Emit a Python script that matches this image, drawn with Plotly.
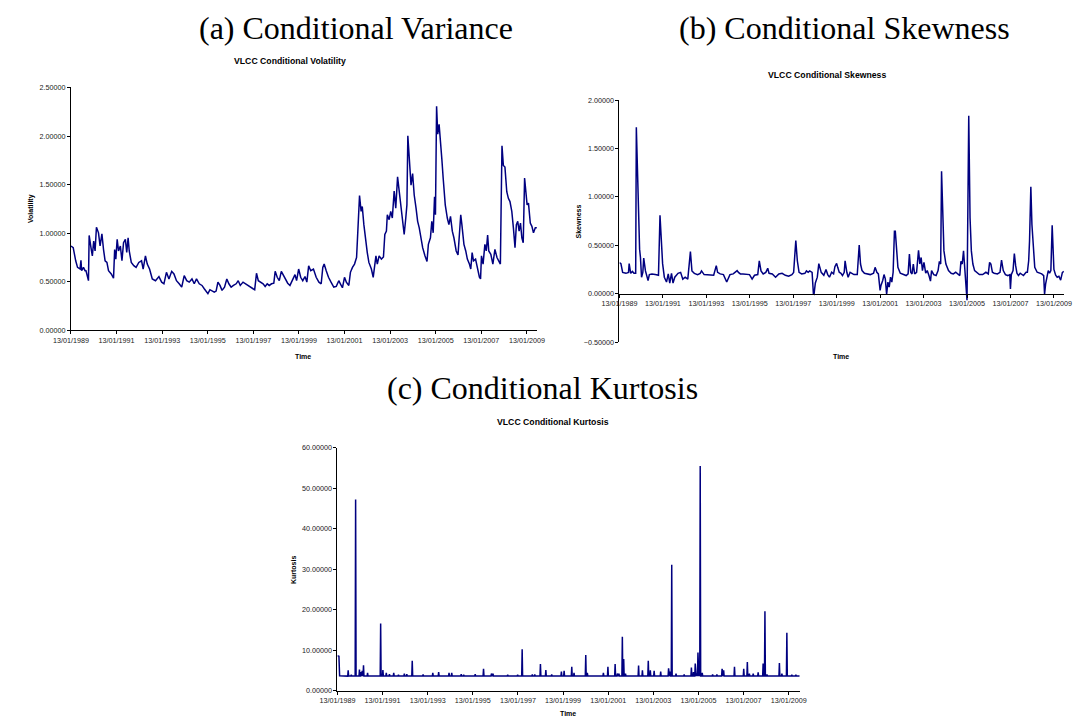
import pandas as pd
import plotly.graph_objects as go

# ---------------------------------------------------------------------------
# Weekly VLCC conditional moments (time in decimal years)
# ---------------------------------------------------------------------------
vol_t = [
    1989.033, 1989.13, 1989.24, 1989.32, 1989.43, 1989.47, 1989.50, 1989.58, 1989.65, 1989.69,
    1989.80, 1989.83, 1989.91, 1989.97, 1990.03, 1990.09, 1990.15, 1990.24, 1990.31, 1990.39,
    1990.46, 1990.53, 1990.61, 1990.68, 1990.80, 1990.90, 1990.95, 1991.00, 1991.06, 1991.12,
    1991.20, 1991.27, 1991.34, 1991.42, 1991.48, 1991.54, 1991.59, 1991.68, 1991.79, 1991.89,
    1992.01, 1992.13, 1992.20, 1992.30, 1992.38, 1992.48, 1992.60, 1992.74, 1992.89, 1993.01,
    1993.11, 1993.22, 1993.33, 1993.45, 1993.55, 1993.66, 1993.78, 1993.89, 1994.00, 1994.11,
    1994.22, 1994.34, 1994.44, 1994.54, 1994.66, 1994.78, 1994.88, 1994.98, 1995.04, 1995.13,
    1995.22, 1995.32, 1995.40, 1995.48, 1995.57, 1995.66, 1995.77, 1995.87, 1995.96, 1996.06,
    1996.16, 1996.28, 1996.37, 1996.46, 1996.58, 1996.69, 1996.80, 1996.90, 1997.02, 1997.09,
    1997.17, 1997.25, 1997.34, 1997.46, 1997.55, 1997.64, 1997.73, 1997.83, 1997.93, 1997.99,
    1998.08, 1998.17, 1998.26, 1998.34, 1998.43, 1998.54, 1998.64, 1998.76, 1998.86, 1998.93,
    1999.02, 1999.11, 1999.20, 1999.30, 1999.38, 1999.46, 1999.55, 1999.67, 1999.79, 1999.91,
    2000.01, 2000.08, 2000.14, 2000.23, 2000.33, 2000.44, 2000.56, 2000.67, 2000.78, 2000.85,
    2000.94, 2001.03, 2001.11, 2001.22, 2001.29, 2001.38, 2001.47, 2001.56, 2001.63, 2001.69,
    2001.76, 2001.81, 2001.88, 2001.96, 2002.03, 2002.10, 2002.21, 2002.29, 2002.35, 2002.41,
    2002.47, 2002.55, 2002.65, 2002.74, 2002.80, 2002.87, 2002.91, 2002.99, 2003.06, 2003.13,
    2003.21, 2003.28, 2003.36, 2003.43, 2003.50, 2003.58, 2003.65, 2003.72, 2003.77, 2003.81,
    2003.87, 2003.95, 2004.02, 2004.09, 2004.17, 2004.24, 2004.31, 2004.39, 2004.46, 2004.56,
    2004.65, 2004.71, 2004.80, 2004.86, 2004.92, 2004.98, 2005.02, 2005.07, 2005.12, 2005.18,
    2005.24, 2005.30, 2005.36, 2005.45, 2005.54, 2005.61, 2005.68, 2005.76, 2005.83, 2005.93,
    2006.01, 2006.07, 2006.13, 2006.18, 2006.27, 2006.35, 2006.42, 2006.51, 2006.57, 2006.63,
    2006.69, 2006.78, 2006.86, 2006.95, 2007.00, 2007.04, 2007.11, 2007.19, 2007.25, 2007.31,
    2007.36, 2007.45, 2007.54, 2007.63, 2007.72, 2007.81, 2007.87, 2007.90, 2007.94, 2008.00,
    2008.07, 2008.15, 2008.22, 2008.29, 2008.37, 2008.44, 2008.51, 2008.57, 2008.63, 2008.69,
    2008.75, 2008.81, 2008.87, 2008.93, 2008.99, 2009.04, 2009.10, 2009.18, 2009.25, 2009.32,
    2009.40, 2009.47,
]
vol_v = [
    0.867, 0.850, 0.715, 0.647, 0.630, 0.720, 0.613, 0.647, 0.613, 0.613,
    0.510, 0.976, 0.850, 0.766, 0.918, 0.816, 1.060, 1.003, 0.867, 0.993,
    0.833, 0.715, 0.698, 0.613, 0.579, 0.535, 0.830, 0.732, 0.935, 0.816,
    0.867, 0.715, 0.901, 0.935, 0.800, 0.952, 0.816, 0.698, 0.664, 0.647,
    0.698, 0.715, 0.630, 0.766, 0.681, 0.630, 0.528, 0.510, 0.552, 0.495,
    0.478, 0.596, 0.528, 0.606, 0.579, 0.510, 0.478, 0.444, 0.562, 0.510,
    0.495, 0.528, 0.478, 0.528, 0.478, 0.461, 0.427, 0.393, 0.376, 0.417,
    0.403, 0.393, 0.403, 0.495, 0.461, 0.410, 0.444, 0.528, 0.478, 0.444,
    0.461, 0.478, 0.510, 0.461, 0.495, 0.478, 0.461, 0.437, 0.427, 0.417,
    0.586, 0.510, 0.495, 0.478, 0.451, 0.478, 0.461, 0.478, 0.484, 0.606,
    0.545, 0.510, 0.606, 0.572, 0.545, 0.484, 0.461, 0.518, 0.572, 0.510,
    0.630, 0.545, 0.510, 0.552, 0.495, 0.664, 0.613, 0.630, 0.545, 0.495,
    0.478, 0.647, 0.681, 0.613, 0.545, 0.495, 0.444, 0.451, 0.510, 0.478,
    0.437, 0.545, 0.495, 0.461, 0.596, 0.647, 0.681, 0.749, 1.087, 1.386,
    1.223, 1.274, 1.087, 0.918, 0.800, 0.698, 0.630, 0.545, 0.681, 0.766,
    0.681, 0.766, 0.732, 0.755, 0.986, 1.020, 1.189, 1.138, 1.223, 1.155,
    1.433, 1.257, 1.579, 1.426, 1.257, 1.087, 0.986, 1.155, 1.291, 2.002,
    1.731, 1.494, 1.612, 1.392, 1.257, 1.121, 1.054, 0.952, 0.850, 0.766,
    0.708, 0.884, 0.952, 1.121, 1.003, 1.375, 1.189, 2.307, 2.019, 2.121,
    1.968, 1.765, 1.562, 1.291, 1.155, 1.087, 1.172, 1.020, 0.952, 0.816,
    0.776, 1.020, 1.189, 1.087, 0.884, 0.816, 0.732, 0.681, 0.630, 0.800,
    0.715, 0.732, 0.647, 0.545, 0.528, 0.766, 0.681, 0.884, 0.816, 0.979,
    0.816, 0.782, 0.681, 0.833, 0.749, 0.698, 0.681, 1.223, 1.900, 1.697,
    1.680, 1.426, 1.358, 1.325, 1.223, 1.054, 0.850, 1.087, 1.121, 1.020,
    1.104, 0.952, 0.901, 1.568, 1.426, 1.291, 1.308, 1.104, 1.070, 1.003,
    1.054, 1.054,
]

skew_t = [
    1989.033, 1989.10, 1989.18, 1989.33, 1989.45, 1989.48, 1989.55, 1989.63, 1989.70, 1989.78,
    1989.81, 1989.90, 1989.96, 1990.00, 1990.05, 1990.11, 1990.15, 1990.23, 1990.30, 1990.35,
    1990.41, 1990.53, 1990.68, 1990.83, 1990.90, 1990.98, 1991.02, 1991.10, 1991.20, 1991.28,
    1991.35, 1991.43, 1991.50, 1991.58, 1991.73, 1991.85, 1991.95, 1992.06, 1992.18, 1992.30,
    1992.37, 1992.48, 1992.63, 1992.75, 1992.81, 1992.93, 1993.07, 1993.22, 1993.37, 1993.49,
    1993.55, 1993.67, 1993.82, 1993.97, 1994.05, 1994.12, 1994.27, 1994.45, 1994.51, 1994.60,
    1994.72, 1994.87, 1995.02, 1995.14, 1995.25, 1995.40, 1995.47, 1995.55, 1995.65, 1995.77,
    1995.86, 1995.92, 1996.07, 1996.22, 1996.37, 1996.52, 1996.67, 1996.82, 1996.97, 1997.05,
    1997.15, 1997.22, 1997.30, 1997.42, 1997.57, 1997.64, 1997.72, 1997.79, 1997.90, 1997.96,
    1997.99, 1998.05, 1998.14, 1998.21, 1998.32, 1998.44, 1998.54, 1998.62, 1998.70, 1998.80,
    1998.89, 1998.95, 1999.03, 1999.08, 1999.15, 1999.23, 1999.30, 1999.38, 1999.42, 1999.50,
    1999.56, 1999.65, 1999.75, 1999.83, 1999.98, 2000.07, 2000.13, 2000.20, 2000.31, 2000.43,
    2000.58, 2000.73, 2000.80, 2000.88, 2000.95, 2001.03, 2001.07, 2001.15, 2001.21, 2001.27,
    2001.33, 2001.39, 2001.45, 2001.51, 2001.57, 2001.63, 2001.69, 2001.73, 2001.78, 2001.85,
    2001.96, 2002.08, 2002.23, 2002.32, 2002.38, 2002.44, 2002.50, 2002.56, 2002.62, 2002.71,
    2002.80, 2002.86, 2002.92, 2002.98, 2003.05, 2003.13, 2003.20, 2003.28, 2003.35, 2003.40,
    2003.50, 2003.61, 2003.70, 2003.76, 2003.82, 2003.86, 2003.91, 2003.97, 2004.06, 2004.18,
    2004.30, 2004.40, 2004.51, 2004.63, 2004.70, 2004.75, 2004.81, 2004.87, 2004.93, 2004.99,
    2005.03, 2005.11, 2005.17, 2005.23, 2005.30, 2005.38, 2005.50, 2005.60, 2005.75, 2005.90,
    2006.01, 2006.07, 2006.13, 2006.20, 2006.28, 2006.43, 2006.55, 2006.62, 2006.70, 2006.80,
    2006.91, 2007.00, 2007.03, 2007.07, 2007.15, 2007.21, 2007.27, 2007.33, 2007.40, 2007.48,
    2007.63, 2007.75, 2007.81, 2007.87, 2007.91, 2007.97, 2008.02, 2008.08, 2008.15, 2008.26,
    2008.38, 2008.47, 2008.56, 2008.60, 2008.65, 2008.71, 2008.77, 2008.83, 2008.89, 2008.95,
    2008.98, 2009.03, 2009.11, 2009.18, 2009.26, 2009.34, 2009.42, 2009.49,
]
skew_v = [
    0.320, 0.310, 0.220, 0.210, 0.220, 0.310, 0.210, 0.230, 0.210, 0.210,
    1.720, 0.885, 0.460, 0.375, 0.170, 0.220, 0.367, 0.235, 0.170, 0.136,
    0.197, 0.204, 0.197, 0.190, 0.810, 0.476, 0.310, 0.170, 0.120, 0.204,
    0.110, 0.210, 0.110, 0.170, 0.210, 0.220, 0.150, 0.170, 0.150, 0.435,
    0.235, 0.210, 0.197, 0.210, 0.235, 0.197, 0.197, 0.190, 0.190, 0.290,
    0.220, 0.204, 0.197, 0.120, 0.160, 0.197, 0.204, 0.238, 0.220, 0.204,
    0.204, 0.197, 0.197, 0.150, 0.190, 0.197, 0.340, 0.235, 0.204, 0.220,
    0.262, 0.210, 0.204, 0.170, 0.204, 0.210, 0.190, 0.180, 0.197, 0.220,
    0.550, 0.340, 0.220, 0.204, 0.210, 0.235, 0.220, 0.235, 0.220, 0.000,
    -0.005, 0.110, 0.170, 0.310, 0.220, 0.190, 0.250, 0.197, 0.170, 0.221,
    0.204, 0.279, 0.313, 0.272, 0.221, 0.211, 0.187, 0.221, 0.340, 0.221,
    0.170, 0.221, 0.204, 0.197, 0.197, 0.503, 0.306, 0.238, 0.211, 0.204,
    0.197, 0.211, 0.272, 0.221, 0.204, 0.034, 0.085, 0.136, 0.197, 0.153,
    -0.007, 0.119, 0.068, 0.170, 0.119, 0.221, 0.646, 0.646, 0.442, 0.272,
    0.211, 0.197, 0.187, 0.204, 0.408, 0.221, 0.204, 0.306, 0.204, 0.221,
    0.449, 0.306, 0.374, 0.238, 0.323, 0.211, 0.238, 0.187, 0.129, 0.238,
    0.197, 0.187, 0.238, 0.333, 0.306, 1.265, 0.782, 0.442, 0.306, 0.238,
    0.211, 0.204, 0.221, 0.197, 0.187, 0.333, 0.306, 0.442, 0.238, 0.034,
    -0.068, 1.837, 0.782, 0.442, 0.306, 0.238, 0.211, 0.197, 0.197, 0.221,
    0.204, 0.323, 0.306, 0.221, 0.211, 0.204, 0.221, 0.347, 0.238, 0.197,
    0.187, 0.197, 0.048, 0.197, 0.238, 0.415, 0.289, 0.211, 0.187, 0.211,
    0.187, 0.221, 0.221, 0.340, 0.544, 1.105, 0.714, 0.442, 0.272, 0.221,
    0.211, 0.204, 0.187, -0.007, 0.102, 0.187, 0.238, 0.211, 0.238, 0.707,
    0.578, 0.250, 0.190, 0.170, 0.180, 0.140, 0.220, 0.230,
]

kurt_t = [
    1989.033, 1989.10, 1989.13, 1989.49, 1989.51, 1989.53, 1989.63, 1989.65, 1989.67, 1989.82,
    1989.84, 1989.86, 1989.99, 1990.01, 1990.03, 1990.06, 1990.08, 1990.10, 1990.11, 1990.13,
    1990.15, 1990.17, 1990.19, 1990.21, 1990.35, 1990.37, 1990.39, 1990.93, 1990.95, 1990.97,
    1991.03, 1991.05, 1991.07, 1991.18, 1991.20, 1991.22, 1991.32, 1991.34, 1991.36, 1991.51,
    1991.53, 1991.55, 1991.72, 1991.74, 1991.76, 1991.98, 1992.00, 1992.02, 1992.09, 1992.11,
    1992.13, 1992.33, 1992.35, 1992.37, 1992.81, 1992.83, 1992.85, 1993.24, 1993.26, 1993.28,
    1993.50, 1993.52, 1993.54, 1993.96, 1993.98, 1994.00, 1994.08, 1994.10, 1994.12, 1994.50,
    1994.52, 1994.54, 1994.61, 1994.63, 1994.65, 1995.12, 1995.14, 1995.16, 1995.49, 1995.51,
    1995.53, 1995.84, 1995.86, 1995.88, 1995.91, 1995.93, 1995.95, 1996.56, 1996.58, 1996.60,
    1997.00, 1997.02, 1997.04, 1997.20, 1997.22, 1997.24, 1997.65, 1997.67, 1997.69, 1997.76,
    1997.78, 1997.80, 1998.01, 1998.03, 1998.05, 1998.25, 1998.27, 1998.29, 1998.51, 1998.53,
    1998.55, 1998.94, 1998.96, 1998.98, 1999.06, 1999.08, 1999.10, 1999.40, 1999.42, 1999.44,
    1999.50, 1999.52, 1999.54, 2000.02, 2000.04, 2000.06, 2000.09, 2000.11, 2000.13, 2000.80,
    2000.82, 2000.84, 2001.00, 2001.02, 2001.04, 2001.32, 2001.34, 2001.36, 2001.42, 2001.44,
    2001.46, 2001.49, 2001.51, 2001.53, 2001.64, 2001.66, 2001.68, 2001.70, 2001.72, 2001.74,
    2001.78, 2001.80, 2001.82, 2002.36, 2002.38, 2002.40, 2002.53, 2002.55, 2002.57, 2002.79,
    2002.81, 2002.83, 2002.88, 2002.90, 2002.92, 2003.05, 2003.07, 2003.09, 2003.34, 2003.36,
    2003.38, 2003.69, 2003.71, 2003.73, 2003.75, 2003.77, 2003.79, 2003.83, 2003.85, 2003.87,
    2004.02, 2004.04, 2004.06, 2004.38, 2004.40, 2004.42, 2004.70, 2004.72, 2004.74, 2004.79,
    2004.81, 2004.83, 2004.87, 2004.89, 2004.91, 2004.93, 2004.95, 2004.97, 2004.99, 2005.01,
    2005.03, 2005.05, 2005.07, 2005.09, 2005.11, 2005.13, 2005.18, 2005.20, 2005.22, 2005.64,
    2005.66, 2005.68, 2005.83, 2005.85, 2005.87, 2006.06, 2006.08, 2006.10, 2006.13, 2006.15,
    2006.17, 2006.61, 2006.63, 2006.65, 2007.02, 2007.04, 2007.06, 2007.18, 2007.20, 2007.22,
    2007.27, 2007.29, 2007.31, 2007.44, 2007.46, 2007.48, 2007.66, 2007.68, 2007.70, 2007.88,
    2007.90, 2007.92, 2007.96, 2007.98, 2008.00, 2008.05, 2008.07, 2008.09, 2008.60, 2008.62,
    2008.64, 2008.71, 2008.73, 2008.75, 2008.93, 2008.95, 2008.97, 2009.15, 2009.17, 2009.19,
    2009.33, 2009.35, 2009.37, 2009.52,
]
kurt_v = [
    8.6, 8.5, 3.7, 3.6, 5.0, 3.6, 3.6, 3.9, 3.6, 3.6,
    47.2, 3.6, 3.6, 5.2, 3.6, 3.6, 4.6, 3.6, 3.6, 4.9,
    3.6, 3.6, 6.3, 3.6, 3.6, 4.4, 3.6, 3.6, 16.6, 3.6,
    3.6, 5.1, 3.6, 3.6, 4.4, 3.6, 3.6, 4.1, 3.6, 3.6,
    4.4, 3.6, 3.6, 3.9, 3.6, 3.6, 4.2, 3.6, 3.6, 4.1,
    3.6, 3.6, 7.4, 3.6, 3.6, 4.0, 3.6, 3.6, 4.4, 3.6,
    3.6, 4.6, 3.6, 3.6, 4.4, 3.6, 3.6, 4.4, 3.6, 3.6,
    4.1, 3.6, 3.6, 3.9, 3.6, 3.6, 4.1, 3.6, 3.6, 5.4,
    3.6, 3.6, 4.2, 3.6, 3.6, 4.2, 3.6, 3.6, 3.9, 3.6,
    3.6, 3.9, 3.6, 3.6, 10.2, 3.6, 3.6, 4.0, 3.6, 3.6,
    4.0, 3.6, 3.6, 6.6, 3.6, 3.6, 5.1, 3.6, 3.6, 4.0,
    3.6, 3.6, 4.7, 3.6, 3.6, 4.9, 3.6, 3.6, 5.9, 3.6,
    3.6, 4.4, 3.6, 3.6, 8.8, 3.6, 3.6, 4.4, 3.6, 3.6,
    4.4, 3.6, 3.6, 5.9, 3.6, 3.6, 6.6, 3.6, 3.6, 4.2,
    3.6, 3.6, 4.2, 3.6, 3.6, 13.3, 3.6, 3.6, 7.8, 3.6,
    3.6, 4.2, 3.6, 3.6, 6.2, 3.6, 3.6, 5.0, 3.6, 3.6,
    7.4, 3.6, 3.6, 5.0, 3.6, 3.6, 4.9, 3.6, 3.6, 4.7,
    3.6, 3.6, 5.5, 3.6, 3.6, 4.7, 3.6, 3.6, 31.1, 3.6,
    3.6, 4.2, 3.6, 3.6, 4.0, 3.6, 3.6, 5.7, 3.6, 3.6,
    4.6, 3.6, 3.6, 6.7, 3.6, 3.6, 4.3, 3.6, 3.6, 9.4,
    3.6, 3.6, 5.4, 3.6, 55.5, 3.6, 3.6, 4.4, 3.6, 3.6,
    4.0, 3.6, 3.6, 4.0, 3.6, 3.6, 5.4, 3.6, 3.6, 5.0,
    3.6, 3.6, 5.9, 3.6, 3.6, 5.4, 3.6, 3.6, 7.1, 3.6,
    3.6, 4.2, 3.6, 3.6, 4.2, 3.6, 3.6, 4.5, 3.6, 3.6,
    6.7, 3.6, 3.6, 19.6, 3.6, 3.6, 4.0, 3.6, 3.6, 6.8,
    3.6, 3.6, 4.2, 3.6, 3.6, 14.3, 3.6, 3.6, 3.9, 3.6,
    3.6, 3.9, 3.6, 3.6,
]

tick_years = [1989, 1991, 1993, 1995, 1997, 1999, 2001, 2003, 2005, 2007, 2009]

assert len(vol_t) == len(vol_v)
assert len(skew_t) == len(skew_v)
assert len(kurt_t) == len(kurt_v)


def to_date(y):
    """Decimal year -> ISO timestamp string."""
    yr = int(y)
    start = pd.Timestamp(yr, 1, 1)
    span = pd.Timestamp(yr + 1, 1, 1) - start
    return (start + span * (y - yr)).strftime("%Y-%m-%d %H:%M")


def dates(ts):
    return [to_date(t) for t in ts]


W, H = 1080, 725
NAVY = "#000080"
SANS = "Liberation Sans, Arial, sans-serif"
SERIF = "Liberation Serif, Times New Roman, serif"
TICK_FONT = dict(family=SANS, size=7.2, color="#1a1a1a")
tickvals = [f"{y}-01-13" for y in tick_years]


def px_x(p):
    return p / W


def px_y(p):
    return 1 - p / H


fig = go.Figure()
for ts, vs, xa, ya in [(vol_t, vol_v, "x", "y"),
                       (skew_t, skew_v, "x2", "y2"),
                       (kurt_t, kurt_v, "x3", "y3")]:
    fig.add_trace(go.Scatter(
        x=dates(ts), y=vs, mode="lines", xaxis=xa, yaxis=ya,
        line=dict(color=NAVY, width=1.5), hoverinfo="skip",
    ))

common_x = dict(
    type="date", tickvals=tickvals, tickformat="%d/%m/%Y", tickangle=0,
    ticks="outside", ticklen=3, tickcolor="black", tickwidth=1,
    showline=True, linecolor="black", linewidth=1,
    showgrid=False, zeroline=False, tickfont=TICK_FONT,
)
common_y = dict(
    tickformat=".5f", ticks="outside", ticklen=3, tickcolor="black", tickwidth=1,
    showline=True, linecolor="black", linewidth=1,
    showgrid=False, zeroline=False, tickfont=TICK_FONT,
)

fig.update_layout(
    width=W, height=H, margin=dict(l=0, r=0, t=0, b=0),
    paper_bgcolor="white", plot_bgcolor="white", showlegend=False,
    xaxis=dict(common_x, domain=[px_x(54.3), px_x(531.7)], anchor="y",
               range=[to_date(vol_t[0]), to_date(vol_t[-1])]),
    yaxis=dict(common_y, domain=[px_y(330.3), px_y(84.5)], anchor="x",
               range=[0, 2.5], dtick=0.5),
    xaxis2=dict(common_x, domain=[px_x(616.3), px_x(1071.7)], anchor="free",
                position=px_y(293.3),
                range=[to_date(skew_t[0]), to_date(skew_t[-1])]),
    yaxis2=dict(common_y, domain=[px_y(342.3), px_y(97.3)], anchor="x2",
                range=[-0.5, 2.0], dtick=0.5),
    xaxis3=dict(common_x, domain=[px_x(327.3), px_x(801.0)], anchor="y3",
                range=[to_date(kurt_t[0]), to_date(kurt_t[-1])]),
    yaxis3=dict(common_y, domain=[px_y(695.3), px_y(449.3)], anchor="x3",
                range=[0, 60], dtick=10),
)


def label(text, x, y, font, angle=0):
    fig.add_annotation(text=text, x=px_x(x), y=px_y(y), xref="paper", yref="paper",
                       showarrow=False, xanchor="center", yanchor="middle",
                       textangle=angle, font=font)


big = dict(family=SERIF, size=32, color="black")
title_font = dict(family=SANS, size=8.7, color="black")
axis_font = dict(family=SANS, size=7, color="black")

label("(a) Conditional Variance", 346, 24, big)
label("(b) Conditional Skewness", 847, 24, big)
label("(c) Conditional Kurtosis", 537, 389, big)

label("<b>VLCC Conditional Volatility</b>", 279, 58, title_font)
label("<b>VLCC Conditional Skewness</b>", 829, 72, title_font)
label("<b>VLCC Conditional Kurtosis</b>", 548, 423, title_font)

label("<b>Volatility</b>", 14, 207, axis_font, angle=-90)
label("<b>Skewness</b>", 574, 220, axis_font, angle=-90)
label("<b>Kurtosis</b>", 283, 573, axis_font, angle=-90)

label("<b>Time</b>", 292, 357, axis_font)
label("<b>Time</b>", 843, 357, axis_font)
label("<b>Time</b>", 564, 718, axis_font)

fig.write_html("out.html")
